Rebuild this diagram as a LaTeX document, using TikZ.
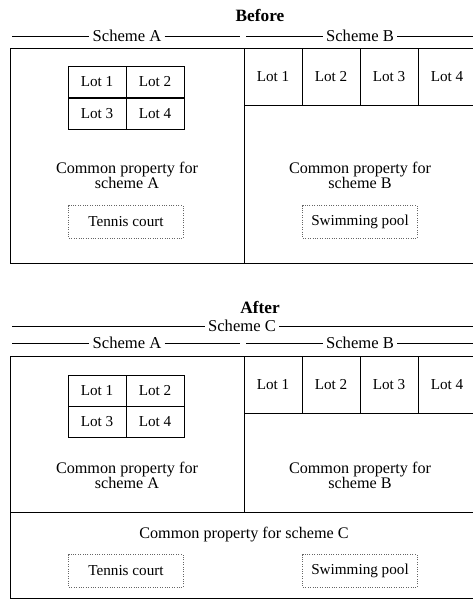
\documentclass[tikz,border=0pt]{standalone}
\usepackage{fontspec}
\setmainfont{Liberation Serif}
\usetikzlibrary{positioning}

\begin{document}
\begin{tikzpicture}[
  x=0.025cm,y=-0.025cm,
  line width=0.7pt,
  font=\fontsize{10.8}{12}\selectfont,
  lot/.style={draw,minimum width=1.45cm,minimum height=0.78cm,inner sep=0pt},
  blot/.style={draw,minimum width=1.45cm,minimum height=1.43cm,inner sep=0pt},
  amenity/.style={draw=black!60,densely dotted,text=black,minimum width=2.85cm,minimum height=0.82cm},
  common/.style={align=center,font=\fontsize{11.5}{10.5}\selectfont},
  schemelbl/.style={inner sep=2pt,font=\fontsize{11.8}{12}\selectfont},
  heading/.style={font=\bfseries\fontsize{12.3}{13}\selectfont},
  rule/.style={line width=0.5pt},
]
\useasboundingbox (0,0) rectangle (473,600);

% before
\node[heading] (before) at (260,15) {Before};
\node[schemelbl] (bSchA) at (127,36) {Scheme A};
\node[schemelbl] (bSchB) at (360,36) {Scheme B};
\coordinate (bAl) at (12,36);
\coordinate (bAr) at (240,36);
\coordinate (bBl) at (246,36);
\coordinate (bBr) at (473,36);
\draw[rule] (bAl) -- (bSchA);
\draw[rule] (bSchA) -- (bAr);
\draw[rule] (bBl) -- (bSchB);
\draw[rule] (bSchB) -- (bBr);

\draw (10,48) rectangle (476,263);
\draw (244,48) -- (244,263);

\node[lot] (bA1) at (97,82) {Lot 1};
\node[lot] (bA2) at (155,82) {Lot 2};
\node[lot] (bA3) at (97,114) {Lot 3};
\node[lot] (bA4) at (155,114) {Lot 4};
\foreach \i in {1,...,4}
  \node[blot] (bB\i) at ({215+58*\i},77) {Lot \i};

\node[common] (bCommonA) at (127,175) {Common property for\\scheme A};
\node[common] (bCommonB) at (360,175) {Common property for\\scheme B};
\node[amenity] (bTennis) at (126,222) {Tennis court};
\node[amenity] (bPool) at (360,222) {Swimming pool};

% after
\node[heading] (after) at (260,307) {After};
\node[schemelbl] (aSchC) at (242,326) {Scheme C};
\node[schemelbl] (aSchA) at (127,343) {Scheme A};
\node[schemelbl] (aSchB) at (360,343) {Scheme B};
\coordinate (aCl) at (12,326);
\coordinate (aCr) at (473,326);
\coordinate (aAl) at (12,343);
\coordinate (aAr) at (240,343);
\coordinate (aBl) at (246,343);
\coordinate (aBr) at (473,343);
\draw[rule] (aCl) -- (aSchC);
\draw[rule] (aSchC) -- (aCr);
\draw[rule] (aAl) -- (aSchA);
\draw[rule] (aSchA) -- (aAr);
\draw[rule] (aBl) -- (aSchB);
\draw[rule] (aSchB) -- (aBr);

\draw (10,356) rectangle (476,598);
\draw (244,356) -- (244,512);
\draw (10,512) -- (476,512);

\node[lot] (aA1) at (97,391) {Lot 1};
\node[lot] (aA2) at (155,391) {Lot 2};
\node[lot] (aA3) at (97,422) {Lot 3};
\node[lot] (aA4) at (155,422) {Lot 4};
\foreach \i in {1,...,4}
  \node[blot] (aB\i) at ({215+58*\i},385) {Lot \i};

\node[common] (aCommonA) at (127,475) {Common property for\\scheme A};
\node[common] (aCommonB) at (360,475) {Common property for\\scheme B};
\node[common] (aCommonC) at (244,535) {Common property for scheme C};
\node[amenity] (aTennis) at (126,571) {Tennis court};
\node[amenity] (aPool) at (360,571) {Swimming pool};
\end{tikzpicture}
\end{document}
